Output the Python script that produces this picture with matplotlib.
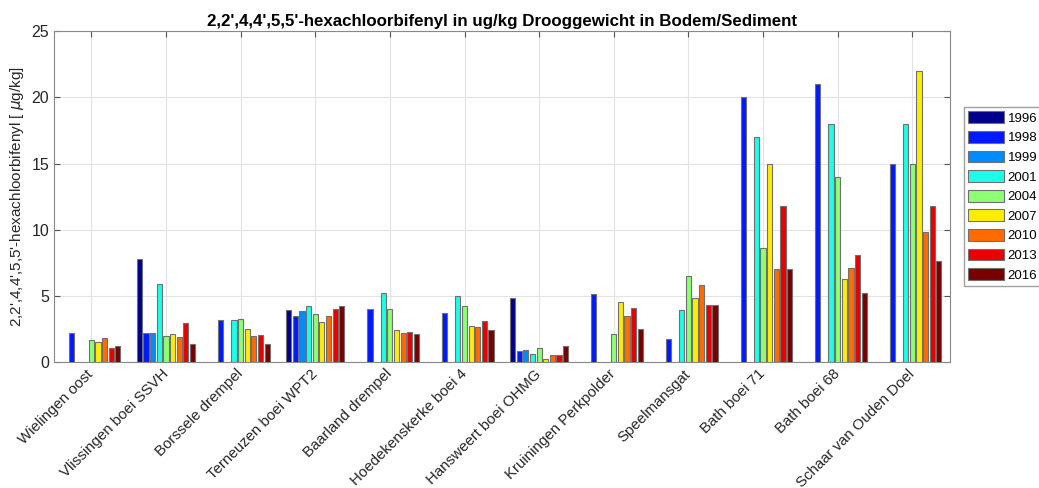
import matplotlib.pyplot as plt
import numpy as np

plt.rcParams['font.family'] = ['Liberation Sans', 'DejaVu Sans']

nan = np.nan

# locations (x axis)
locations = ['Wielingen oost', 'Vlissingen boei SSVH', 'Borssele drempel',
             'Terneuzen boei WPT2', 'Baarland drempel', 'Hoedekenskerke boei 4',
             'Hansweert boei OHMG', 'Kruiningen Perkpolder', 'Speelmansgat',
             'Bath boei 71', 'Bath boei 68', 'Schaar van Ouden Doel']

years = ['1996', '1998', '1999', '2001', '2004', '2007', '2010', '2013', '2016']

# values per year, one entry per location (ug/kg)
v1996 = [nan, 7.8, nan, 3.93, nan, nan, 4.87, nan, nan, nan, nan, nan]
v1998 = [2.2, 2.2, 3.2, 3.5, 4.0, 3.7, 0.84, 5.15, 1.72, 20.0, 21.0, 15.0]
v1999 = [nan, 2.2, nan, 3.85, nan, nan, 0.9, nan, nan, nan, nan, nan]
v2001 = [nan, 5.9, 3.15, 4.22, 5.2, 5.0, 0.6, nan, 3.95, 17.0, 18.0, 18.0]
v2004 = [1.65, 2.0, 3.22, 3.62, 4.0, 4.22, 1.1, 2.1, 6.5, 8.65, 14.0, 15.0]
v2007 = [1.5, 2.1, 2.5, 3.05, 2.4, 2.7, 0.2, 4.52, 4.85, 15.0, 6.3, 22.0]
v2010 = [1.82, 1.92, 1.95, 3.5, 2.2, 2.64, 0.5, 3.5, 5.85, 7.0, 7.1, 9.85]
v2013 = [1.05, 2.95, 2.05, 4.0, 2.25, 3.12, 0.5, 4.1, 4.35, 11.8, 8.1, 11.8]
v2016 = [1.2, 1.4, 1.35, 4.25, 2.12, 2.4, 1.22, 2.48, 4.35, 7.0, 5.2, 7.62]

series = [v1996, v1998, v1999, v2001, v2004, v2007, v2010, v2013, v2016]

colors = [(0.0, 0.0, 0.55), (0.0, 0.1, 1.0), (0.0, 0.55, 1.0), (0.1, 1.0, 0.9),
          (0.55, 1.0, 0.45), (1.0, 0.93, 0.0), (1.0, 0.42, 0.0), (0.92, 0.0, 0.0),
          (0.47, 0.0, 0.0)]

fig = plt.figure(figsize=(10.39, 4.88), dpi=100)
ax = fig.add_axes([0.052, 0.258, 0.862, 0.678])

x = np.arange(1, len(locations) + 1)
n = len(series)
slot = 0.8 / n
for i, vals in enumerate(series):
    offset = (i - (n - 1) / 2) * slot
    ax.bar(x + offset, vals, width=slot * 0.78, color=colors[i],
           edgecolor='#707070', linewidth=0.8, label=years[i], zorder=3)

ax.set_xlim(0.5, len(locations) + 0.5)
ax.set_ylim(0, 25)
ax.set_yticks([0, 5, 10, 15, 20, 25])
ax.set_xticks(x)
ax.set_xticklabels(locations, rotation=45, ha='right', va='center',
                   rotation_mode='anchor', fontsize=10.8)
ax.tick_params(axis='x', pad=7)
ax.tick_params(axis='y', labelsize=11.5)
ax.tick_params(direction='in', top=True, right=True, length=4,
               color='#555555', labelcolor='#262626')
ax.grid(True, color='#e3e3e3', linewidth=0.8, zorder=0)
for s in ax.spines.values():
    s.set_color('#888888')

ax.set_title("2,2',4,4',5,5'-hexachloorbifenyl in ug/kg Drooggewicht in Bodem/Sediment",
             fontsize=12.2, fontweight='bold', pad=4)
ax.set_ylabel("2,2',4,4',5,5'-hexachloorbifenyl [ $\\mu$g/kg]", fontsize=11,
              color='#262626', labelpad=4)

ax.legend(loc='upper left', bbox_to_anchor=(1.016, 0.77), fontsize=9.5,
          frameon=True, fancybox=False, edgecolor='#888888', borderpad=0.3,
          handlelength=2.7, handleheight=1.0, labelspacing=0.47,
          handletextpad=0.3, borderaxespad=0)

plt.savefig('out.png', dpi=100)
